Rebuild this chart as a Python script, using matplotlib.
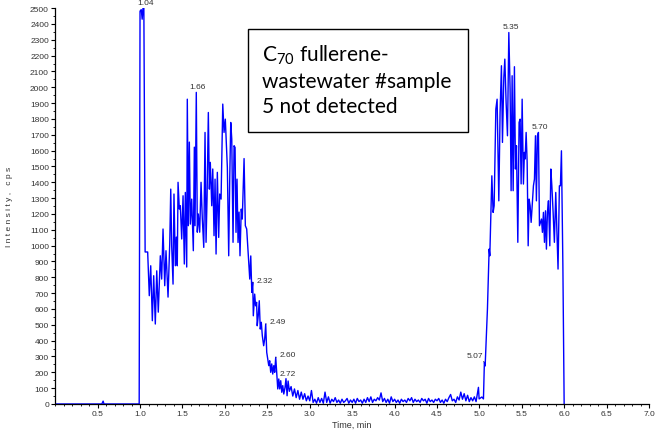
import numpy as np
import matplotlib.pyplot as plt
from matplotlib.patches import Rectangle

# XIC trace (time in min, intensity in cps)
t_start = [0.0, 0.55, 0.565, 0.575, 0.59, 0.99]
i_start = [0, 0, 18, 0, 0, 0]

t_peak1 = [1.0, 1.005, 1.015, 1.025, 1.035, 1.045, 1.06, 1.09, 1.109, 1.126, 1.145, 1.161,
           1.180, 1.197, 1.215, 1.239, 1.255, 1.271, 1.291, 1.306, 1.330, 1.350, 1.362,
           1.373, 1.389, 1.400, 1.416, 1.428, 1.439, 1.448, 1.463, 1.475, 1.491, 1.507,
           1.522, 1.534, 1.550, 1.557, 1.569, 1.581, 1.593, 1.609, 1.628, 1.640, 1.648,
           1.663, 1.675, 1.687, 1.703, 1.719, 1.734, 1.751, 1.766, 1.778, 1.790, 1.805,
           1.817, 1.828, 1.845, 1.857, 1.872, 1.884, 1.896, 1.911, 1.927, 1.939, 1.955,
           1.975, 1.990, 2.005, 2.017, 2.029, 2.045, 2.057, 2.069, 2.081, 2.096, 2.108,
           2.120, 2.131, 2.143, 2.155, 2.167, 2.178, 2.193, 2.205, 2.226, 2.241, 2.257,
           2.276, 2.293, 2.305, 2.317, 2.328]
i_peak1 = [2480, 2485, 2490, 2430, 2500, 2500, 960, 960, 684, 873, 526, 810,
           505, 841, 580, 936, 789, 1105, 747, 968, 675, 1010, 1357,
           999, 757, 1326, 873, 1054, 873, 1400, 1231, 1252, 1042, 1315,
           884, 1336, 865, 1925, 1126, 1654, 1136, 1294, 968, 1622, 1126,
           1968, 1085, 1200, 1085, 1400, 1168, 989, 1715, 1021, 1305, 1841,
           1357, 1526, 1252, 1484, 1063, 1420, 947, 1463, 1052, 1326, 1294,
           1894, 1715, 1799, 1641, 1494, 936, 1420, 1778, 1673, 1021, 1631,
           1620, 1084, 1420, 1020, 1212, 936, 1231, 1168, 1550, 1126, 1105,
           936, 789, 935, 705, 768]

t_tail = [2.335, 2.351, 2.362, 2.374, 2.381, 2.393, 2.405, 2.417, 2.429, 2.441, 2.457,
          2.469, 2.481, 2.493, 2.505, 2.517, 2.528, 2.540, 2.552, 2.564, 2.576, 2.587,
          2.599, 2.611, 2.623, 2.635, 2.646, 2.658, 2.670, 2.682, 2.694, 2.709, 2.720,
          2.733, 2.745, 2.76, 2.78, 2.80, 2.82, 2.84, 2.86, 2.88, 2.90, 2.92, 2.94,
          2.96, 2.98, 3.00, 3.02, 3.04]
i_tail = [557, 694, 620, 642, 494, 557, 652, 473, 516, 431, 368,
          410, 505, 326, 284, 242, 273, 200, 253, 189, 242, 200,
          295, 200, 95, 158, 95, 147, 74, 116, 63, 105, 160,
          52, 145, 80, 110, 50, 95, 40, 85, 30, 75, 30, 65,
          20, 50, 20, 85, 10]

t_base = [3.06, 3.08, 3.10, 3.12, 3.14, 3.16, 3.18, 3.20, 3.22, 3.24, 3.26, 3.28, 3.30,
          3.32, 3.34, 3.36, 3.38, 3.40, 3.42, 3.44, 3.46, 3.48, 3.50, 3.52, 3.54, 3.56,
          3.58, 3.60, 3.62, 3.64, 3.66, 3.68, 3.70, 3.72, 3.74, 3.76, 3.78, 3.80, 3.82,
          3.84, 3.86, 3.88, 3.90, 3.92, 3.94, 3.96, 3.98, 4.00, 4.02, 4.04, 4.06, 4.08,
          4.10, 4.12, 4.14, 4.16, 4.18, 4.20, 4.22, 4.24, 4.26, 4.28, 4.30, 4.32, 4.34,
          4.36, 4.38, 4.40, 4.42, 4.44, 4.46, 4.48, 4.50, 4.52, 4.54, 4.56, 4.58, 4.60,
          4.62, 4.64, 4.66, 4.68, 4.70, 4.72, 4.74, 4.76, 4.78, 4.80, 4.82, 4.84, 4.86,
          4.88, 4.90, 4.92, 4.94, 4.96]
i_base = [30, 5, 40, 10, 35, 5, 75, 10, 45, 5, 30, 15, 40,
          10, 25, 5, 30, 10, 20, 35, 5, 25, 10, 30, 5, 35,
          15, 25, 5, 30, 10, 40, 15, 45, 10, 30, 20, 40, 25,
          70, 15, 35, 10, 30, 5, 45, 15, 30, 10, 25, 5, 30,
          15, 25, 10, 35, 20, 40, 10, 30, 15, 25, 10, 35, 20,
          30, 5, 35, 15, 25, 10, 30, 20, 35, 10, 25, 5, 30,
          15, 40, 60, 20, 30, 10, 45, 25, 75, 30, 65, 20, 55,
          15, 40, 20, 45, 15]

t_peak2 = [4.988, 4.996, 5.028, 5.047, 5.058, 5.067, 5.094, 5.114, 5.122, 5.146, 5.161,
           5.173, 5.193, 5.208, 5.228, 5.243, 5.259, 5.271, 5.287, 5.299, 5.314, 5.330,
           5.346, 5.361, 5.373, 5.385, 5.397, 5.412, 5.424, 5.436, 5.452, 5.467, 5.479,
           5.491, 5.503, 5.518, 5.530, 5.538, 5.550, 5.562, 5.574, 5.585, 5.597, 5.609,
           5.621, 5.636, 5.648, 5.660, 5.671, 5.683, 5.695, 5.707, 5.719, 5.731, 5.742,
           5.754, 5.766, 5.778, 5.789, 5.801, 5.813, 5.829, 5.841, 5.853, 5.868, 5.883,
           5.899, 5.911, 5.926, 5.942, 5.954, 5.966, 5.983, 5.998]
i_peak2 = [105, 32, 44, 32, 263, 240, 600, 978, 936, 1441, 1210,
           1252, 1862, 1925, 1283, 1841, 2136, 1652, 2062, 2178, 1905, 1694,
           2346, 1989, 1347, 2073, 1347, 2130, 1484, 1631, 1021, 1778, 1799,
           1390, 1925, 1389, 1589, 1547, 1715, 1526, 999, 1294, 1252, 1147,
           1252, 1378, 1420, 1694, 1283, 1694, 1715, 1126, 1147, 1168, 1084,
           1210, 1021, 1220, 978, 1210, 1283, 999, 1484, 1378, 1210, 1021,
           1336, 1126, 852, 1378, 1378, 1599, 873, 0]

time = np.array(t_start + t_peak1 + t_tail + t_base + t_peak2)
intensity = np.array(i_start + i_peak1 + i_tail + i_base + i_peak2)

# peak labels: (label, time, intensity of labelled point)
peak_labels = ["1.04", "1.66", "2.32", "2.49", "2.60", "2.72", "5.07", "5.35", "5.70"]
peak_times = [1.04, 1.663, 2.328, 2.481, 2.599, 2.72, 5.058, 5.346, 5.695]
peak_vals = [2500, 1968, 768, 505, 295, 160, 263, 2346, 1715]

plt.rcParams['font.family'] = ['Liberation Sans', 'DejaVu Sans']
fig = plt.figure(figsize=(6.6, 4.35), dpi=100)
ax = fig.add_axes([0.0836, 0.069, 0.9, 0.910])

ax.plot(time, intensity, color='#0000ff', lw=1.0)

ax.set_xlim(0, 7.0)
ax.set_ylim(0, 2500)
ax.set_xticks(np.arange(0.5, 7.01, 0.5))
ax.set_xticklabels(["%.1f" % v for v in np.arange(0.5, 7.01, 0.5)])
ax.set_xticks(np.arange(0, 7.01, 0.1), minor=True)
ax.set_yticks(np.arange(0, 2501, 100))
ax.set_yticks(np.arange(0, 2501, 50), minor=True)
ax.tick_params(which='major', length=3, width=0.8, labelsize=6, labelcolor='#333333', pad=1.5)
ax.tick_params(which='minor', length=1.5, width=0.6)
for s in ['top', 'right']:
    ax.spines[s].set_visible(False)
for s in ['left', 'bottom']:
    ax.spines[s].set_linewidth(0.9)

ax.set_xlabel("Time, min", fontsize=6.5, color='#333333', labelpad=2)
ax.set_ylabel("I n t e n s i t y ,   c p s", fontsize=6, color='#333333', labelpad=12)

# annotations
lab_col = '#333333'
for lab, tt, vv in zip(peak_labels, peak_times, peak_vals):
    if lab in ("1.04", "1.66", "5.35", "5.70"):
        ax.text(tt + 0.02, vv + 15, lab, fontsize=6, color=lab_col, ha='center', va='bottom',
                clip_on=False)
    elif lab == "5.07":
        ax.annotate(lab, xy=(tt, vv), xytext=(tt - 0.01, vv + 45), fontsize=6, color=lab_col,
                    ha='right', va='center',
                    arrowprops=dict(arrowstyle='-', lw=0.5, color=lab_col, ls=':'))
    elif lab == "2.72":
        ax.text(2.642, 191, lab, fontsize=6, color=lab_col, ha='left', va='center')
    else:
        ax.annotate(lab, xy=(tt, vv), xytext=(tt + 0.04, vv + 15), fontsize=6, color=lab_col,
                    ha='left', va='center',
                    arrowprops=dict(arrowstyle='-', lw=0.5, color=lab_col, ls=':',
                                    shrinkA=0, shrinkB=0))

# text box
fig.patches.append(Rectangle((248 / 660, 1 - 133 / 435), 220 / 660, 103 / 435,
                             transform=fig.transFigure, fill=False, edgecolor='black', lw=1.0))
fig.text(262 / 660, 1 - 80 / 435, "C$_{\\mathregular{70}}$ fullerene-\nwastewater #sample\n5 not detected",
         fontsize=15, family='Lato', ha='left', va='center', linespacing=1.3)

plt.savefig("out.png", dpi=100)
